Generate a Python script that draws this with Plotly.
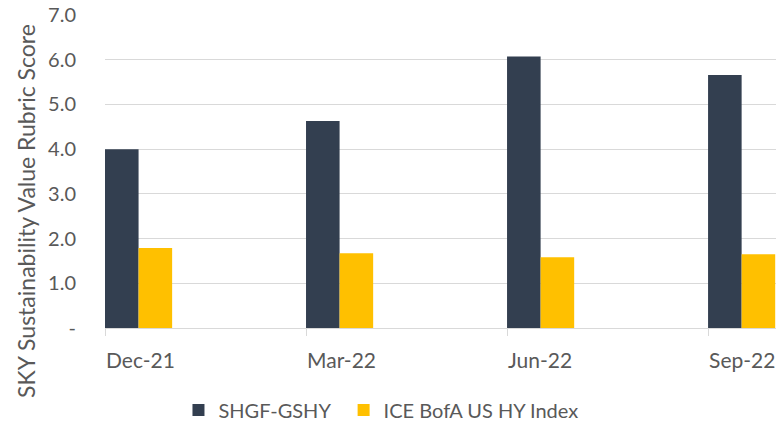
import plotly.graph_objects as go

quarters = ["Dec-21", "Mar-22", "Jun-22", "Sep-22"]
shgf_gshy = [4.0, 4.63, 6.07, 5.66]
ice_bofa_hy = [1.79, 1.67, 1.58, 1.65]

y_ticks = [0, 1, 2, 3, 4, 5, 6, 7]
y_tick_text = ["-", "1.0", "2.0", "3.0", "4.0", "5.0", "6.0", "7.0"]

DARK = "#333F50"
YELLOW = "#FFC000"
TEXT = "#595959"
GRID = "#D9D9D9"
FONT = "Lato"

x_pos = list(range(len(quarters)))
bar_w = 0.167

fig = go.Figure()
fig.add_trace(
    go.Bar(
        x=x_pos,
        y=shgf_gshy,
        name="SHGF-GSHY",
        width=bar_w,
        offset=0,
        marker=dict(color=DARK, line=dict(width=0)),
        legend="legend",
    )
)
fig.add_trace(
    go.Bar(
        x=x_pos,
        y=ice_bofa_hy,
        name="ICE BofA US HY Index",
        width=bar_w,
        offset=bar_w,
        marker=dict(color=YELLOW, line=dict(width=0)),
        legend="legend2",
    )
)

legend_style = dict(
    orientation="h",
    xref="container",
    xanchor="left",
    yref="container",
    y=0.0353,
    yanchor="middle",
    font=dict(size=20, color=TEXT),
    itemwidth=30,
)

fig.update_layout(
    width=776,
    height=425,
    margin=dict(l=105, r=0, t=15, b=97),
    paper_bgcolor="white",
    plot_bgcolor="white",
    barmode="overlay",
    font=dict(family=FONT, size=20, color=TEXT),
    showlegend=True,
    legend=dict(legend_style, x=0.230),
    legend2=dict(legend_style, x=0.4428),
    xaxis=dict(
        # the source chart is cut off on the right, so the range runs past Sep-22
        range=[0, 3.338],
        tickvals=x_pos,
        ticktext=quarters,
        ticklabelposition="outside right",
        ticklabelstandoff=14,
        ticklabeloverflow="allow",
        ticks="outside",
        ticklen=7,
        tickcolor=GRID,
        showline=True,
        linecolor=GRID,
        linewidth=1,
        showgrid=False,
        zeroline=False,
        tickfont=dict(size=21, color=TEXT),
    ),
    yaxis=dict(
        range=[0, 7.001],
        tickvals=y_ticks,
        ticktext=y_tick_text,
        showgrid=True,
        gridcolor=GRID,
        gridwidth=1,
        zeroline=False,
        ticks="",
        ticklabelstandoff=28,
        ticklabeloverflow="allow",
        tickfont=dict(size=20, color=TEXT),
    ),
)

fig.add_annotation(
    text="SKY Sustainability Value Rubric Score",
    xref="paper",
    yref="paper",
    x=-0.1177,
    y=0.374,
    xanchor="center",
    yanchor="middle",
    textangle=-90,
    showarrow=False,
    font=dict(size=23, color=TEXT),
)

# drop the default 8px body margin so the figure fills the window exactly
fig.write_html(
    "out.html",
    config={"displayModeBar": False},
    post_script="document.body.style.margin='0';document.body.style.overflow='hidden';",
)
